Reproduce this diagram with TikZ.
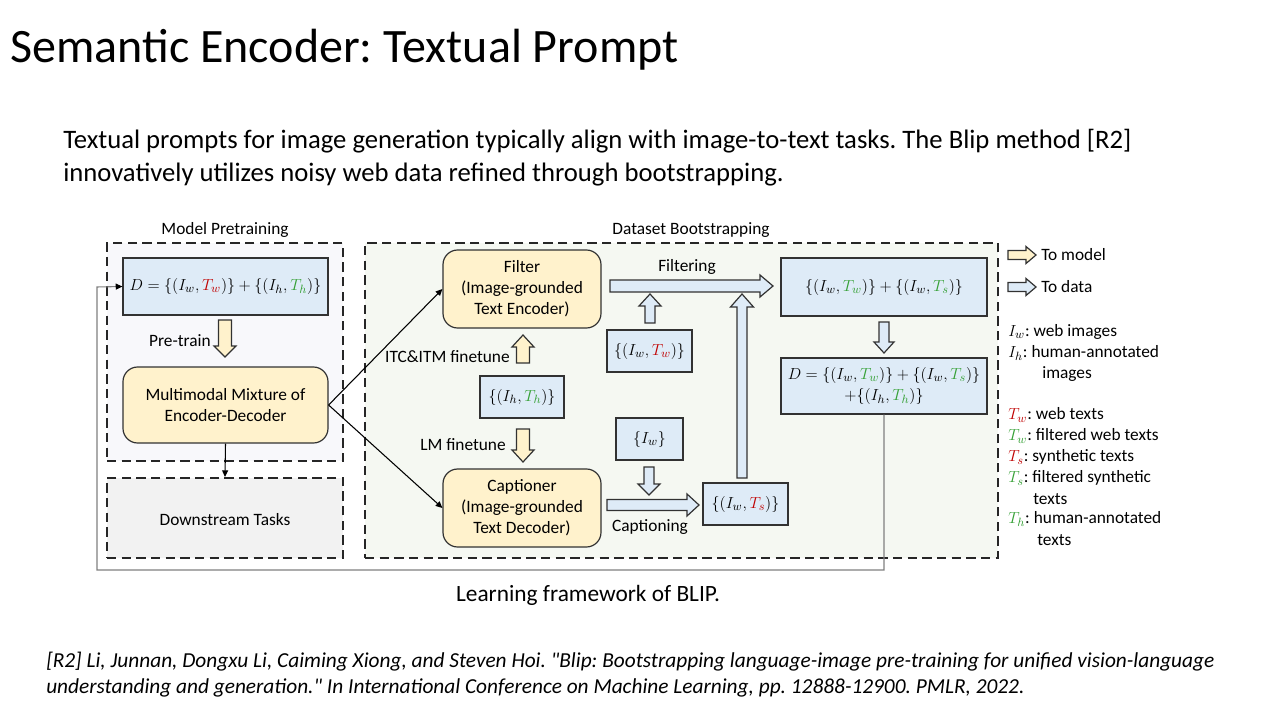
\documentclass[tikz,border=0pt]{standalone}
\usepackage{fontspec}
\setmainfont{Carlito}
\frenchspacing
\usetikzlibrary{arrows.meta,fit}

\definecolor{boxblue}{RGB}{222,235,247}
\definecolor{boxyellow}{RGB}{255,242,204}
\definecolor{pretrainbg}{RGB}{248,248,251}
\definecolor{downbg}{RGB}{242,242,242}
\definecolor{bootbg}{RGB}{245,248,242}
\definecolor{edgedark}{RGB}{50,50,50}
\definecolor{tred}{RGB}{192,0,0}
\definecolor{tgreen}{RGB}{52,160,52}
\definecolor{loopgray}{RGB}{128,128,128}

\newcommand\Tr[1]{\textcolor{tred}{T_{#1}}}
\newcommand\Tg[1]{\textcolor{tgreen}{T_{#1}}}
% straight double quote glyph, bypassing the TeX ligature mapping
\newcommand\sq{\XeTeXglyph\XeTeXcharglyph"22\relax}

% block arrow: style, start point, direction (deg), length, shaft half width, head half width, head length
\newcommand\blockarrow[7]{%
  \begin{scope}[shift={#2},rotate=#3]
    \draw[#1] (0,-#5) -- ({#4-#7},-#5) -- ({#4-#7},-#6) -- (#4,0)
      -- ({#4-#7},#6) -- ({#4-#7},#5) -- (0,#5) -- cycle;
  \end{scope}}

\tikzset{
  dfont/.style={font=\fontsize{13}{15.75}\selectfont},
  dtext/.style={dfont, inner sep=0pt},
  groupbox/.style={draw=black!85, line width=1.5pt, dash pattern=on 7pt off 4pt, inner sep=0pt},
  bluebox/.style={draw=edgedark, fill=boxblue, line width=0.9pt, inner sep=0pt,
    align=center, dfont},
  modelbox/.style={draw=edgedark, fill=boxyellow, line width=0.9pt, inner sep=0pt,
    rounded corners=11pt, align=center, dfont},
  boxsize/.style 2 args={minimum width=#1, minimum height=#2},
  toData/.style={draw=edgedark, fill=boxblue, line width=0.9pt},
  toModel/.style={draw=edgedark, fill=boxyellow, line width=0.9pt},
  flow/.style={draw=black, line width=0.8pt, -{Triangle[length=5pt,width=4.5pt]}},
  loopback/.style={draw=loopgray, line width=0.8pt, -{Triangle[length=5pt,width=4.5pt,color=black]}},
  legend/.style={dtext, anchor=west},
}

\begin{document}
\begin{tikzpicture}[x=0.75pt, y=-0.75pt]
  \fill[white] (0,0) rectangle (1280,720);
  \useasboundingbox (0,0) rectangle (1280,720);

  % slide title and text
  \node[anchor=west, inner sep=0pt, font=\fontsize{36}{43}\selectfont] (title) at (10,50)
    {Semantic Encoder: Textual Prompt};
  \node[anchor=west, inner sep=0pt, align=left, font=\fontsize{20}{24.75}\selectfont] (intro) at (63,158)
    {Textual prompts for image generation typically align with image-to-text tasks. The Blip method [R2]\\
     innovatively utilizes noisy web data refined through bootstrapping.};

  % group frames
  \node[groupbox, fill=pretrainbg, fit={(107,243)(343,461)}] (pretrain) {};
  \node[groupbox, fill=downbg, fit={(107,478)(343,558)}] (down) {};
  \node[dtext] (downlbl) at ([yshift=-1.5pt]down.center) {Downstream Tasks};
  \node[groupbox, fill=bootbg, fit={(365,243)(998,558)}] (boot) {};
  \node[dtext] (pretrainlbl) at (225,230) {Model Pretraining};
  \node[dtext] (bootlbl) at (691,230) {Dataset Bootstrapping};

  % model pretraining
  \node[bluebox, boxsize={153.75pt}{42.75pt}] (d1) at (225.5,286.5)
    {$D=\{(I_w,\Tr{w})\}+\{(I_h,\Tg{h})\}$};
  \node[modelbox, boxsize={153.75pt}{57pt}] (mm) at (225.5,405) {Multimodal Mixture of\\Encoder-Decoder};
  \blockarrow{toModel}{(225,320)}{-90}{37}{6.5}{11}{11}
  \node[dtext] (pretrainstep) at (180,341) {Pre-train};

  % filter and captioner
  \node[modelbox, boxsize={118.5pt}{58.5pt}, text depth=2.5pt] (filter) at (522,289) {Filter\\(Image-grounded\\Text Encoder)};
  \node[modelbox, boxsize={118.5pt}{58.5pt}, text depth=2.5pt] (cap) at (522,508) {Captioner\\(Image-grounded\\Text Decoder)};
  \node[bluebox, boxsize={63pt}{31.5pt}] (human) at (522,397) {$\{(I_h,\Tg{h})\}$};
  \blockarrow{toModel}{(523,363)}{90}{28}{6.5}{11}{12}
  \node[dtext, anchor=east] (itc) at (510,357) {ITC\&ITM finetune};
  \blockarrow{toModel}{(523,429)}{-90}{33}{6.5}{11}{12}
  \node[dtext, anchor=east] (lm) at (506,445) {LM finetune};

  % data flow
  \node[bluebox, boxsize={63.75pt}{31.5pt}] (web) at (649.5,351) {$\{(I_w,\Tr{w})\}$};
  \node[bluebox, boxsize={50.25pt}{31.5pt}] (webimg) at (649.5,439) {$\{I_w\}$};
  \node[bluebox, boxsize={63.75pt}{31.5pt}] (synth) at (745.5,504) {$\{(I_w,\Tr{s})\}$};
  \node[bluebox, boxsize={154.5pt}{43.5pt}] (filtered) at (884,287)
    {$\{(I_w,\Tg{w})\}+\{(I_w,\Tg{s})\}$};
  \node[bluebox, boxsize={154.5pt}{42pt}] (fin) at (884,386)
    {$D=\{(I_w,\Tg{w})\}+\{(I_w,\Tg{s})\}$\\$+\{(I_h,\Tg{h})\}$};

  \blockarrow{toData}{(610,286)}{0}{163}{6}{11}{13}
  \node[dtext] (filterlbl) at (687,267) {Filtering};
  \blockarrow{toData}{(650,323)}{90}{29}{5}{11}{12}
  \blockarrow{toData}{(742,478)}{90}{184}{5}{11.5}{13}
  \blockarrow{toData}{(884,322)}{-90}{31}{5}{10}{11}
  \blockarrow{toData}{(649,467)}{-90}{28}{5}{11}{11}
  \blockarrow{toData}{(607,505)}{0}{92}{5.5}{11}{12}
  \node[dtext] (caplbl) at (650,527) {Captioning};

  % model connections
  \draw[flow] (mm.east) -- (filter.west);
  \draw[flow] (mm.east) -- (cap.west);
  \draw[flow] (mm.south) -- (down.north);

  % bootstrapped data fed back to pre-training
  \coordinate (lpA) at (884,570);
  \coordinate (lpB) at (97,570);
  \coordinate (lpC) at (97,287);
  \draw[loopback] (fin.south) -- (lpA) -- (lpB) -- (lpC) -- (d1.west);

  % legend
  \blockarrow{toModel}{(1008,255)}{0}{28}{4.5}{8.5}{10}
  \node[legend] (lgmodel) at (1041,255) {To model};
  \blockarrow{toData}{(1008,287)}{0}{28}{4.5}{8.5}{10}
  \node[legend] (lgdata) at (1041,287) {To data};
  \node[legend] (lgIw) at (1008,332) {$I_w$: web images};
  \node[legend] (lgIh) at (1008,353) {$I_h$: human-annotated};
  \node[legend] (lgIhb) at (1042,374) {images};
  \node[legend] (lgTw) at (1008,415) {$\Tr{w}$: web texts};
  \node[legend] (lgTwf) at (1008,436) {$\Tg{w}$: filtered web texts};
  \node[legend] (lgTs) at (1008,457) {$\Tr{s}$: synthetic texts};
  \node[legend] (lgTsf) at (1008,478) {$\Tg{s}$: filtered synthetic};
  \node[legend] (lgTsfb) at (1033,499) {texts};
  \node[legend] (lgTh) at (1008,519) {$\Tg{h}$: human-annotated};
  \node[legend] (lgThb) at (1037,540) {texts};

  % caption and reference
  \node[inner sep=0pt, font=\fontsize{17.5}{21}\selectfont] (caption) at (588,595)
    {Learning framework of BLIP.};
  \node[anchor=west, inner sep=0pt, align=left, font=\fontsize{16}{19.5}\selectfont\itshape] (ref) at (46,675)
    {[R2] Li, Junnan, Dongxu Li, Caiming Xiong, and Steven Hoi. \sq Blip: Bootstrapping language-image pre-training for unified vision-language\\
     understanding and generation.\sq{} In International Conference on Machine Learning, pp. 12888-12900. PMLR, 2022.};
\end{tikzpicture}
\end{document}
